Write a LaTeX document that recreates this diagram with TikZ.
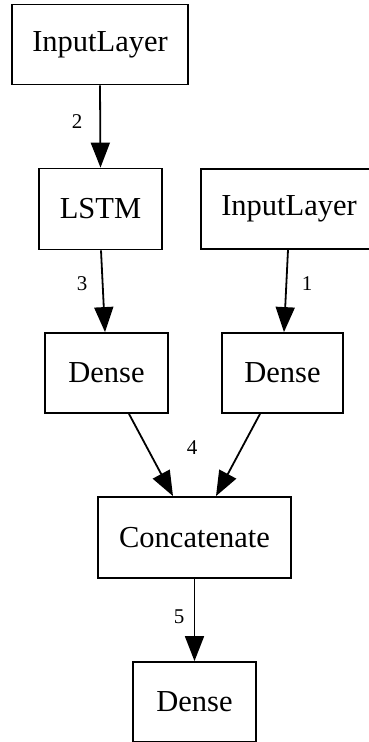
\documentclass[tikz,border=0pt]{standalone}
\usepackage{fontspec}
\setmainfont{Liberation Serif}
\usetikzlibrary{arrows.meta}
\begin{document}
\begin{tikzpicture}[x=1pt,y=-1pt,
  layerbox/.style={draw, line width=1.8pt, minimum width=#1, minimum height=80pt, inner sep=0pt,
    font=\fontsize{30.5}{36}\selectfont},
  edge/.style={draw, line width=1.8pt, -{Triangle[length=25pt,width=19pt]}},
  elabel/.style={font=\fontsize{21}{24}\selectfont, inner sep=0pt}]
\clip (0,0) rectangle (369,742);
\useasboundingbox (0,0) rectangle (369,742);
\node[layerbox=176pt] (in1) at (100,44.5) {InputLayer};
\node[layerbox=123pt, minimum height=81pt] (lstm) at (100.5,209) {LSTM};
\node[layerbox=176pt] (in2) at (289,209) {InputLayer};
\node[layerbox=123pt] (d1) at (106.5,373) {Dense};
\node[layerbox=121pt] (d2) at (282.5,373) {Dense};
\node[layerbox=193pt, minimum height=81pt] (cat) at (194.5,537.5) {Concatenate};
\node[layerbox=123pt] (d3) at (194.5,702) {Dense};
\draw[edge] (in1.south) -- (lstm.north);
\draw[edge] ([xshift=0.5pt]lstm.south) -- ([xshift=-1.5pt]d1.north);
\draw[edge] ([xshift=-1pt]in2.south) -- ([xshift=1.5pt]d2.north);
\draw[edge] ([xshift=22.5pt]d1.south) -- ([xshift=-21.5pt]cat.north);
\draw[edge] ([xshift=-22.5pt]d2.south) -- ([xshift=21.5pt]cat.north);
\draw[edge] (cat.south) -- (d3.north);
\node[elabel] (l2) at (77,122) {2};
\node[elabel] (l3) at (82,284) {3};
\node[elabel] (l1) at (307,284) {1};
\node[elabel] (l4) at (192,448) {4};
\node[elabel] (l5) at (179,617) {5};
\end{tikzpicture}
\end{document}
